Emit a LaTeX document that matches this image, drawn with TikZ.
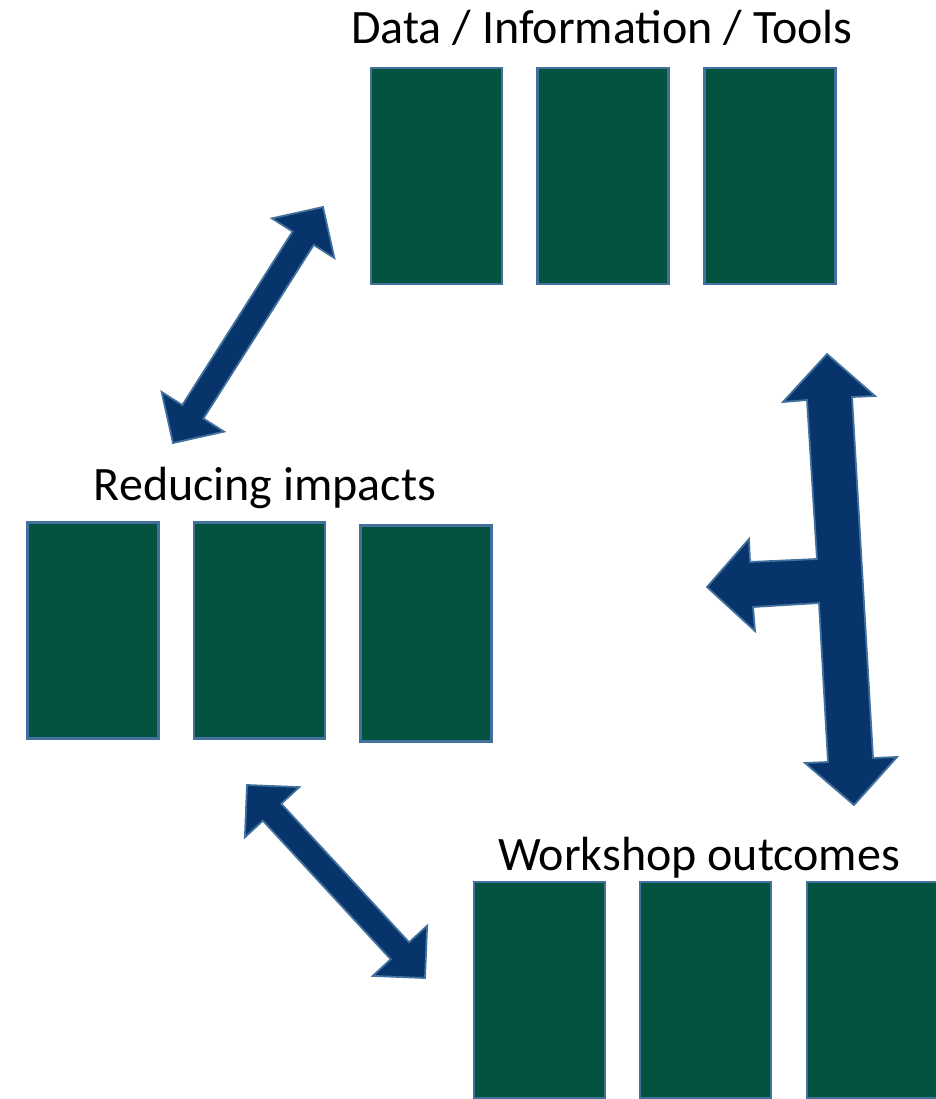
\documentclass[tikz,border=0pt]{standalone}
\usepackage{fontspec}
\setmainfont{Carlito}
\usetikzlibrary{calc}

\definecolor{boxgreen}{RGB}{3,83,64}
\definecolor{edgeblue}{RGB}{65,113,156}
\definecolor{arrowblue}{RGB}{6,52,107}

% double headed block arrow between two named points
\newcommand{\dblarrow}[2]{%
  \coordinate (h1) at ($(#1)!37pt!(#2)$);
  \coordinate (h2) at ($(#2)!37pt!(#1)$);
  \draw[arrowbody] (#1) -- ($(h1)!37pt!90:(#1)$) -- ($(h1)!12.5pt!90:(#1)$)
    -- ($(h2)!12.5pt!-90:(#2)$) -- ($(h2)!37pt!-90:(#2)$) -- (#2)
    -- ($(h2)!37pt!90:(#2)$) -- ($(h2)!12.5pt!90:(#2)$)
    -- ($(h1)!12.5pt!-90:(#1)$) -- ($(h1)!37pt!-90:(#1)$) -- cycle;
}

\begin{document}
\begin{tikzpicture}[x=1pt, y=-1pt,
    box/.style = {draw=edgeblue, line width=2.2pt, fill=boxgreen, minimum width=131pt, minimum height=216pt, inner sep=0pt},
    title/.style = {anchor=base, font=\fontsize{48}{58}\selectfont, inner sep=0pt},
    arrowbody/.style = {draw=edgeblue, line width=1.8pt, fill=arrowblue, line join=miter}]
    \useasboundingbox (0,0) rectangle (935,1099);

    \node[title] at (602,43.5) (dtitle) {Data / Information / Tools};
    \node[box] at (436.5,176) (d1) {};
    \node[box] at (603,176) (d2) {};
    \node[box] at (770,176) (d3) {};

    \node[title] at (265,500) (rtitle) {Reducing impacts};
    \node[box] at (93,630.5) (r1) {};
    \node[box] at (259.7,630.5) (r2) {};
    \node[box] at (426,633.5) (r3) {};

    \node[title] at (699,870) (wtitle) {Workshop outcomes};
    \node[box] at (539.5,990) (w1) {};
    \node[box] at (705.5,990) (w2) {};
    \node[box] at (872.5,990) (w3) {};

    \coordinate (rd) at (173,443);
    \coordinate (dr) at (323,207);
    \coordinate (rw) at (247,785);
    \coordinate (wr) at (425,978);
    \coordinate (dw) at (827,354);
    \coordinate (wd) at (854,805);
    \coordinate (tr) at (707,587);

    \dblarrow{rd}{dr}
    \dblarrow{rw}{wr}

    \draw[arrowbody] (dw) -- (875,396) -- (852,397) -- (873,758) -- (897,757) -- (wd)
        -- (805,763) -- (828,762) -- (819,603) -- (753,607) -- (755,631) -- (tr)
        -- (749,539) -- (750,562) -- (817,559) -- (807,400) -- (783,402) -- cycle;
\end{tikzpicture}
\end{document}
